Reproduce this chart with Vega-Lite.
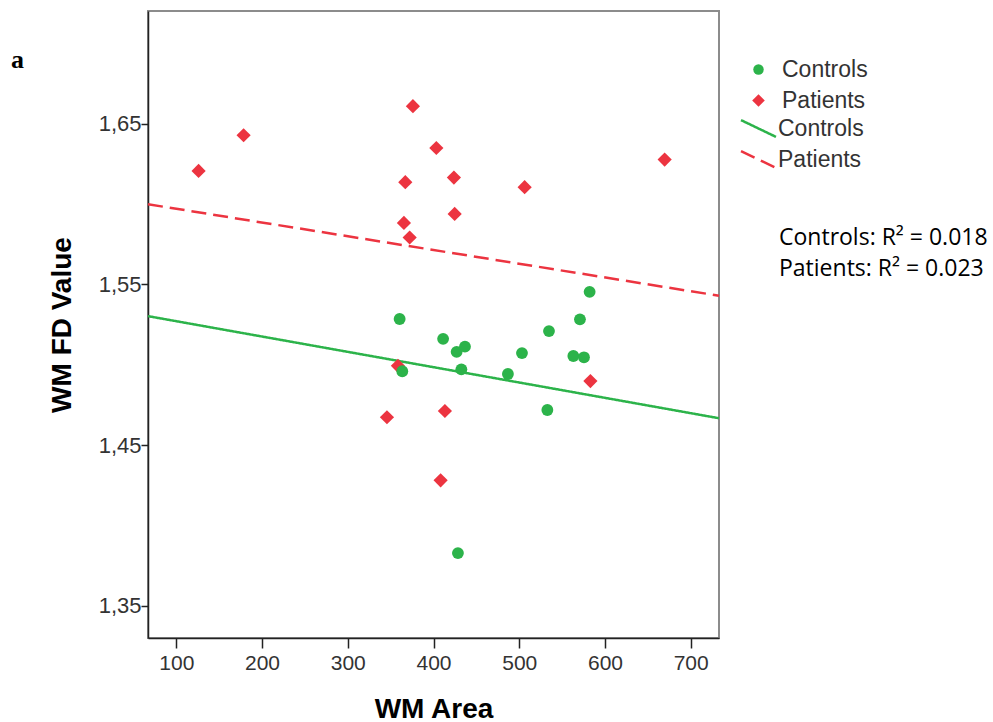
{
  "$schema": "https://vega.github.io/schema/vega-lite/v6.json",
  "width": 571,
  "height": 627,
  "autosize": "none",
  "padding": {"left": 148, "top": 11, "right": 274, "bottom": 84},
  "background": "white",
  "title": {"text": "a", "anchor": "start", "frame": "group", "orient": "top", "font": "Liberation Serif", "fontSize": 26, "fontWeight": "bold", "color": "black", "dx": -137, "dy": 83, "offset": 0, "baseline": "alphabetic"},
  "config": {
    "view": {"stroke": "#8c8c8c", "strokeWidth": 2},
    "axis": {"grid": false, "labelFont": "Liberation Sans", "labelFontSize": 21, "labelColor": "#333333", "titleFont": "Liberation Sans", "titleFontSize": 28, "titleFontWeight": "bold", "titleColor": "black", "tickColor": "#222222", "tickWidth": 1.5, "tickSize": 10, "domainColor": "#222222", "domainWidth": 1.5}
  },
  "datasets": {
    "points": [
      {"group": "Patients", "area": 126.0, "fd": 1.6205},
      {"group": "Patients", "area": 178.5, "fd": 1.6427},
      {"group": "Patients", "area": 376.0, "fd": 1.6608},
      {"group": "Patients", "area": 403.3, "fd": 1.6348},
      {"group": "Patients", "area": 367.1, "fd": 1.6135},
      {"group": "Patients", "area": 423.8, "fd": 1.6164},
      {"group": "Patients", "area": 365.5, "fd": 1.5882},
      {"group": "Patients", "area": 424.7, "fd": 1.5938},
      {"group": "Patients", "area": 372.2, "fd": 1.5791},
      {"group": "Patients", "area": 506.3, "fd": 1.6104},
      {"group": "Patients", "area": 669.6, "fd": 1.6276},
      {"group": "Patients", "area": 358.5, "fd": 1.4993},
      {"group": "Patients", "area": 345.7, "fd": 1.4673},
      {"group": "Patients", "area": 413.3, "fd": 1.4712},
      {"group": "Patients", "area": 408.3, "fd": 1.4281},
      {"group": "Patients", "area": 583.0, "fd": 1.4898},
      {"group": "Controls", "area": 360.5, "fd": 1.5284},
      {"group": "Controls", "area": 363.6, "fd": 1.4959},
      {"group": "Controls", "area": 411.2, "fd": 1.5161},
      {"group": "Controls", "area": 427.0, "fd": 1.5080},
      {"group": "Controls", "area": 436.7, "fd": 1.5112},
      {"group": "Controls", "area": 432.5, "fd": 1.4971},
      {"group": "Controls", "area": 428.5, "fd": 1.3828},
      {"group": "Controls", "area": 486.8, "fd": 1.4942},
      {"group": "Controls", "area": 503.2, "fd": 1.5072},
      {"group": "Controls", "area": 534.7, "fd": 1.5209},
      {"group": "Controls", "area": 532.8, "fd": 1.4718},
      {"group": "Controls", "area": 563.1, "fd": 1.5054},
      {"group": "Controls", "area": 575.5, "fd": 1.5046},
      {"group": "Controls", "area": 570.8, "fd": 1.5282},
      {"group": "Controls", "area": 582.1, "fd": 1.5453}
    ],
    "fits": [
      {"fit": "Controls fit", "area": 67, "fd": 1.5302, "r2": "Controls: R² = 0.018"},
      {"fit": "Controls fit", "area": 733, "fd": 1.4667, "r2": "Controls: R² = 0.018"},
      {"fit": "Patients fit", "area": 67, "fd": 1.5998, "r2": "Patients: R² = 0.023"},
      {"fit": "Patients fit", "area": 733, "fd": 1.5429, "r2": "Patients: R² = 0.023"}
    ]
  },
  "layer": [
    {
      "data": {"name": "fits"},
      "mark": {"type": "line", "strokeWidth": 2.5},
      "encoding": {
        "x": {"field": "area", "type": "quantitative", "scale": {"domain": [67, 733], "nice": false, "zero": false},
          "axis": {"values": [100, 200, 300, 400, 500, 600, 700], "title": "WM Area", "labelPadding": 4, "titlePadding": 22}},
        "y": {"field": "fd", "type": "quantitative", "scale": {"domain": [1.33, 1.72], "nice": false, "zero": false},
          "axis": {"values": [1.35, 1.45, 1.55, 1.65], "labelExpr": "replace(format(datum.value, '.2f'), '.', ',')", "title": "WM FD Value", "tickSize": 7, "labelPadding": 0, "labelFontSize": 22, "titlePadding": 22}},
        "stroke": {"field": "fit", "type": "nominal", "scale": {"domain": ["Controls fit", "Patients fit"], "range": ["#2cb34a", "#ec3440"]},
          "legend": {"orient": "none", "legendX": 599, "legendY": 106, "title": null, "padding": 0, "symbolType": "M-2,-0.96L2,0.96", "symbolSize": 306, "symbolStrokeWidth": 2.5, "labelOffset": 8, "labelFont": "Liberation Sans", "labelFontSize": 23, "labelColor": "#333333", "labelLimit": 400, "rowPadding": 4, "labelExpr": "replace(datum.label, ' fit', '')"}},
        "strokeDash": {"field": "fit", "type": "nominal", "scale": {"domain": ["Controls fit", "Patients fit"], "range": [[1, 0], [15, 7]]}},
        "opacity": {"field": "r2", "type": "ordinal", "scale": {"range": [1, 1]},
          "legend": {"orient": "none", "legendX": 608, "legendY": 215, "title": null, "padding": 0, "symbolOpacity": 0, "symbolSize": 0, "labelOffset": 0, "labelFont": "Open Sans", "labelFontSize": 23, "labelColor": "black", "labelLimit": 400, "rowPadding": 7}}
      }
    },
    {
      "data": {"name": "points"},
      "mark": {"type": "point", "filled": true, "opacity": 1, "size": 140},
      "encoding": {
        "x": {"field": "area", "type": "quantitative"},
        "y": {"field": "fd", "type": "quantitative"},
        "color": {"field": "group", "type": "nominal", "scale": {"domain": ["Controls", "Patients"], "range": ["#2cb34a", "#ec3440"]},
          "legend": {"orient": "none", "legendX": 599, "legendY": 47, "title": null, "padding": 0, "symbolSize": 110, "labelOffset": 12, "labelFont": "Liberation Sans", "labelFontSize": 23, "labelColor": "#333333", "labelLimit": 400, "rowPadding": 7}},
        "shape": {"field": "group", "type": "nominal", "scale": {"domain": ["Controls", "Patients"], "range": ["circle", "M-1.2,0L0,-1.2L1.2,0L0,1.2Z"]}}
      }
    }
  ]
}
